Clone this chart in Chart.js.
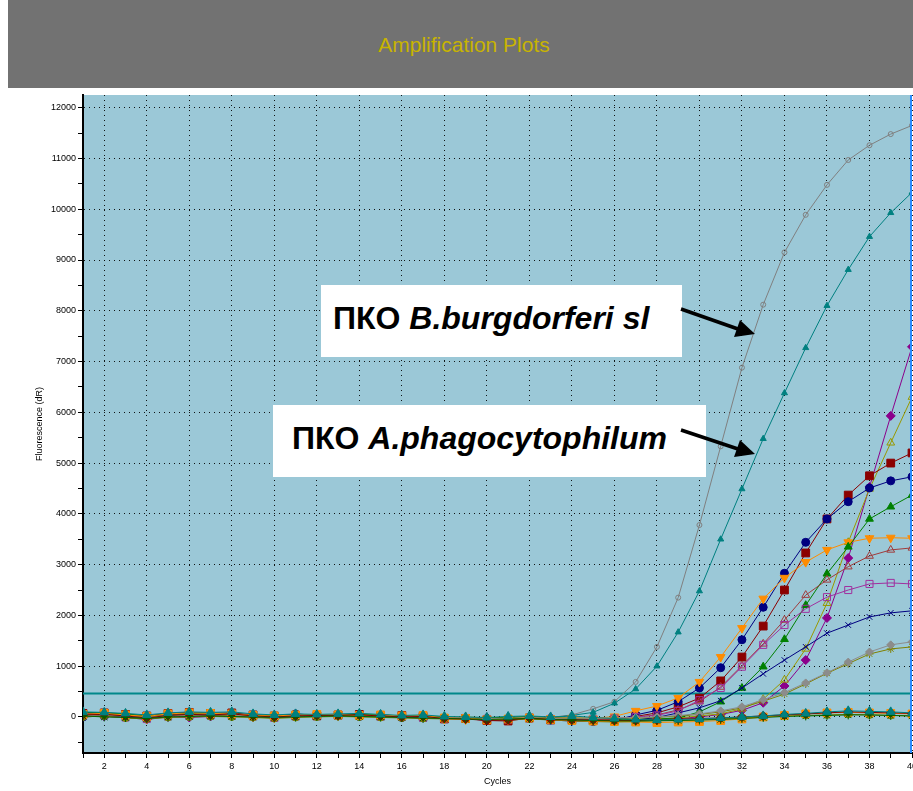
<!DOCTYPE html>
<html>
<head>
<meta charset="utf-8">
<script src="https://cdn.jsdelivr.net/npm/chart.js@4.4.1/dist/chart.umd.min.js"></script>
<style>
  body { margin: 0; background: #fff; }
  #page { position: relative; width: 913px; height: 791px; overflow: hidden; background: #fff; font-family: Arial, "Liberation Sans", sans-serif; }
  #header { position: absolute; left: 8px; top: 0; width: 905px; height: 88px; background: #727272; }
  #header span { position: absolute; left: 0; width: 912px; top: 33px; text-align: center; color: #c8b400; font-size: 21px; }
  #wrap { position: absolute; left: 0; top: 88px; width: 913px; height: 703px; }
  .note { position: absolute; background: #fff; display: flex; align-items: center; justify-content: flex-start; font-weight: bold; font-size: 32px; color: #000; white-space: nowrap; box-sizing: border-box; padding-bottom: 6px; }
  .note i { font-style: italic; }
  #arrows { position: absolute; left: 0; top: 0; pointer-events: none; }
</style>
</head>
<body>
<div id="page">
  <div id="header"><span>Amplification Plots</span></div>
  <div id="wrap"><canvas id="amp" width="913" height="703"></canvas></div>
  <div class="note" style="left:321px; top:285px; width:361px; height:72px; padding-left:12px;">ПКО&nbsp;<i>B.burgdorferi sl</i></div>
  <div class="note" style="left:273px; top:405px; width:433px; height:72px; padding-left:19px;">ПКО&nbsp;<i>A.phagocytophilum</i></div>
  <svg id="arrows" width="913" height="791">
    <line x1="681" y1="309" x2="738" y2="329" stroke="#000" stroke-width="3.5"/>
    <polygon points="755,334 734,337 740,320" fill="#000"/>
    <line x1="681" y1="430" x2="738" y2="449" stroke="#000" stroke-width="3.5"/>
    <polygon points="755,454 734,457 740,440" fill="#000"/>
  </svg>
</div>
<script>
const cycles = [1, 2, 3, 4, 5, 6, 7, 8, 9, 10, 11, 12, 13, 14, 15, 16, 17, 18, 19, 20,
  21, 22, 23, 24, 25, 26, 27, 28, 29, 30, 31, 32, 33, 34, 35, 36, 37, 38, 39, 40];
const yTicks = [-500, 0, 500, 1000, 1500, 2000, 2500, 3000, 3500, 4000, 4500, 5000, 5500, 6000,
  6500, 7000, 7500, 8000, 8500, 9000, 9500, 10000, 10500, 11000, 11500, 12000];

// positive controls
const bbPos = [50, 40, 20, -10, 30, 50, 40, 50, 20, 0, 30, 20, 30, 40, 20, 10, 0, -10, -20, -30,
  -20, 0, -10, 40, 160, 300, 690, 1380, 2350, 3780, 5330, 6880, 8120, 9150, 9890, 10480, 10970, 11260, 11480, 11650];
const apPos = [80, 70, 40, 0, 60, 70, 60, 70, 30, 10, 40, 30, 40, 50, 30, 10, 20, 0, -10, -20,
  0, 10, -20, 30, 90, 270, 550, 1000, 1670, 2480, 3500, 4490, 5480, 6380, 7270, 8100, 8810, 9460, 9930, 10330];

// samples
const orangeTri = [40, 60, 20, -30, 40, 60, 50, 40, 10, -10, 20, 40, 30, 20, 30, 0, 10, -40, -50, -30,
  -60, -10, -40, -20, -30, 10, 120, 215, 375, 690, 1180, 1750, 2330, 2740, 3050, 3290, 3440, 3520, 3530, 3520];
const navyDot = [0, 20, 30, -20, 50, 40, 60, 30, 20, 0, 60, 30, 20, 10, 40, -10, -20, -30, -40, -60,
  -50, -30, -60, -80, -90, -70, 40, 130, 300, 570, 970, 1520, 2160, 2830, 3440, 3900, 4240, 4510, 4650, 4730];
const redSquare = [70, 80, 50, 20, 70, 90, 70, 80, 40, 20, 30, 20, 40, 50, 20, 30, 10, -40, -30, -70,
  -80, -20, -60, -50, -70, -60, 10, 80, 200, 370, 710, 1180, 1790, 2500, 3230, 3900, 4370, 4750, 5000, 5200];
const brownTri = [60, 50, 10, -30, 20, 40, 20, 60, 30, 0, 20, 40, 50, 20, 30, 10, -10, -20, -30, -50,
  -40, -20, -30, -40, -60, -40, 0, 40, 140, 300, 590, 1010, 1440, 1910, 2400, 2700, 2960, 3170, 3290, 3330];
const purpleSquare = [20, 30, -10, -40, 10, 20, 30, 20, 10, -20, 10, 30, 20, 30, 10, 0, -20, -30, -20, -40,
  -50, -30, -40, -60, -50, -30, 0, 30, 120, 330, 570, 990, 1420, 1810, 2130, 2360, 2500, 2620, 2640, 2620];
const greenTri = [90, 80, 60, 20, 50, 70, 80, 60, 40, 30, 40, 30, 40, 60, 40, 20, 10, -10, -20, -10,
  -20, 10, -30, -40, -50, -60, -50, -40, -20, 100, 300, 570, 990, 1530, 2200, 2820, 3350, 3900, 4140, 4370];
const navyCross = [10, 30, 0, -20, 30, 40, 60, 50, 20, 10, 50, 40, 30, 20, 30, 0, -20, -10, -30, -40,
  -40, -20, -50, -60, -70, -80, -60, -10, 80, 180, 320, 570, 850, 1120, 1380, 1650, 1810, 1970, 2050, 2090];
const purpleDiamond = [30, 10, -10, -50, 0, -10, 10, 20, 0, -20, 10, 30, 40, 20, 30, 0, -10, -20, -30, -10,
  -20, 0, -10, -30, -40, -60, -70, -50, -30, 0, 50, 130, 280, 610, 1120, 1950, 3130, 4530, 5930, 7290];
const oliveTri = [40, 60, 30, 0, 40, 50, 40, 50, 30, 10, 30, 20, 30, 40, 20, 10, 20, -10, 0, -20,
  -10, 10, -20, -10, -30, -40, -50, -40, -20, 20, 60, 160, 350, 730, 1340, 2240, 3440, 4490, 5400, 6300];
const grayDiamond = [20, 40, 10, -10, 30, 30, 50, 40, 10, 0, 40, 30, 20, 30, 20, 10, 0, -20, -10, -30,
  -30, -10, -30, -20, -30, -20, -10, 0, 30, 60, 120, 200, 340, 480, 670, 870, 1080, 1280, 1420, 1480];
const oliveStar = [30, 50, 20, 0, 20, 40, 40, 30, 20, 10, 30, 20, 30, 20, 10, 0, 10, -10, -20, -20,
  -30, 0, -20, -30, -40, -30, -20, -10, 20, 50, 100, 180, 310, 450, 650, 860, 1050, 1240, 1340, 1380];

// negatives
const negOrange = [50, 70, 40, 10, 60, 80, 70, 60, 30, 20, 40, 50, 40, 30, 40, 20, 30, -20, -30, -60,
  -40, -20, -50, -70, -80, -90, -100, -110, -100, -90, -70, -40, 0, 30, 60, 80, 90, 80, 70, 60];
const negTeal = [100, 90, 70, 40, 80, 100, 90, 100, 60, 40, 60, 50, 60, 70, 50, 30, 40, 10, 0, -10,
  10, 20, 0, 20, -10, -30, -50, -60, -50, -40, -20, 0, 20, 50, 70, 100, 120, 110, 100, 80];
const negGreen = [20, 0, -10, -30, 0, 10, 20, 10, 0, -10, 0, 10, 20, 10, 0, -10, -20, -30, -40, -50,
  -40, -30, -50, -60, -70, -80, -80, -70, -70, -60, -50, -30, -10, 10, 20, 30, 40, 40, 30, 20];
const negMaroon = [40, 50, 20, -20, 30, 50, 40, 60, 20, 0, 20, 30, 30, 40, 20, 0, 10, -30, -40, -70,
  -60, -20, -50, -60, -60, -70, -70, -60, -40, -30, -20, 0, 20, 40, 60, 80, 100, 90, 80, 70];
const negOlive = [0, 20, -20, -40, -10, 0, 10, 0, -10, -30, -10, 0, 10, 0, -10, -20, -30, -40, -30, -50,
  -60, -40, -60, -80, -90, -100, -90, -80, -70, -60, -40, -20, 0, 20, 30, 40, 50, 40, 30, 20];

const threshold = 460;
const yMajor = 1000;

const pts = vals => vals.map((v, i) => ({ x: cycles[i], y: v }));

function series(vals, color, style, opts) {
  return Object.assign({
    data: pts(vals),
    borderColor: color,
    backgroundColor: color,
    pointBorderColor: color,
    pointBackgroundColor: color,
    pointStyle: style,
    pointRadius: 3.5,
    pointBorderWidth: 1,
    borderWidth: 1,
    tension: 0
  }, opts || {});
}

const datasets = [
  series(negTeal, '#008080', 'triangle', { pointRadius: 5 }),
  series(negGreen, '#006400', 'star', { pointRadius: 4.5 }),
  series(negMaroon, '#800000', 'rectRot', { pointRadius: 4.5 }),
  series(negOrange, '#ff8c00', 'rect', { pointRadius: 5.5 }),
  series(negOlive, '#808000', 'circle', { pointRadius: 3.5 }),
  series(grayDiamond, '#8c8c8c', 'rectRot', { pointRadius: 4 }),
  series(oliveStar, '#808000', 'star', { pointRadius: 4 }),
  series(navyCross, '#000080', 'crossRot', { pointRadius: 4 }),
  series(purpleSquare, '#a0309f', 'rect', { pointRadius: 5, pointBackgroundColor: 'rgba(0,0,0,0)' }),
  series(brownTri, '#a03c3c', 'triangle', { pointRadius: 4.5, pointBackgroundColor: 'rgba(0,0,0,0)' }),
  series(greenTri, '#008000', 'triangle', { pointRadius: 4.5 }),
  series(orangeTri, '#ff8c00', 'triangle', { pointRadius: 5, pointRotation: 180 }),
  series(navyDot, '#000080', 'circle', { pointRadius: 4 }),
  series(redSquare, '#8b0000', 'rect', { pointRadius: 5.5 }),
  series(oliveTri, '#999900', 'triangle', { pointRadius: 4.5, pointBackgroundColor: 'rgba(0,0,0,0)' }),
  series(purpleDiamond, '#8b008b', 'rectRot', { pointRadius: 4.5 }),
  series(apPos, '#008080', 'triangle', { pointRadius: 3.5 }),
  series(bbPos, '#808080', 'circle', { pointRadius: 2.5, pointBackgroundColor: 'rgba(0,0,0,0)' }),
  {
    data: [{ x: cycles[0], y: threshold }, { x: cycles[cycles.length - 1], y: threshold }],
    borderColor: '#00878a',
    borderWidth: 2,
    pointRadius: 0
  }
];

const plotBg = {
  id: 'plotBg',
  beforeDraw(chart) {
    const { ctx, chartArea: a } = chart;
    ctx.save();
    ctx.fillStyle = '#9bc8d7';
    ctx.fillRect(a.left, a.top, a.right - a.left, a.bottom - a.top);
    ctx.restore();
  },
  afterDraw(chart) {
    const { ctx, chartArea: a } = chart;
    ctx.save();
    ctx.strokeStyle = '#2b8cff';
    ctx.lineWidth = 2;
    ctx.beginPath();
    ctx.moveTo(a.right - 1, a.top);
    ctx.lineTo(a.right - 1, a.bottom);
    ctx.stroke();
    ctx.restore();
  }
};

const tickFont = { family: 'Arial, "Liberation Sans", sans-serif', size: 9 };

new Chart(document.getElementById('amp'), {
  type: 'line',
  data: { datasets },
  plugins: [plotBg],
  options: {
    responsive: false,
    animation: false,
    layout: { autoPadding: false, padding: { top: 7, right: 1, left: 0, bottom: 0 } },
    plugins: { legend: { display: false }, tooltip: { enabled: false } },
    scales: {
      x: {
        type: 'linear',
        min: 1,
        max: 40,
        afterFit: s => { s.height = 38; s.paddingLeft = 0; s.paddingRight = 0; },
        ticks: {
          stepSize: 1,
          autoSkip: false,
          maxRotation: 0,
          padding: 3,
          color: '#000',
          font: tickFont,
          callback: v => (v % 2 === 0 ? v : '')
        },
        grid: {
          color: c => (c.tick && c.tick.value % 2 === 0 ? 'rgba(0,0,0,0.9)' : 'rgba(0,0,0,0)'),
          tickColor: '#000',
          tickLength: 5,
          lineWidth: 1
        },
        border: { color: '#000', width: 2, dash: [1, 4] },
        title: { display: true, text: 'Cycles', color: '#000', font: tickFont, padding: { top: 0, bottom: 4 } }
      },
      y: {
        min: -710,
        max: 12250,
        afterBuildTicks: s => { s.ticks = yTicks.map(v => ({ value: v })); },
        afterFit: s => { s.width = 83; s.paddingTop = 0; s.paddingBottom = 0; },
        ticks: {
          autoSkip: false,
          padding: 2,
          color: '#000',
          font: tickFont,
          callback: v => (v % yMajor === 0 ? v : '')
        },
        grid: {
          color: c => (c.tick && c.tick.value % yMajor === 0 ? 'rgba(0,0,0,0.9)' : 'rgba(0,0,0,0)'),
          tickColor: '#000',
          tickLength: 5,
          lineWidth: 1
        },
        border: { color: '#000', width: 2, dash: [1, 4] },
        title: { display: true, text: 'Fluorescence (dR)', color: '#000', font: tickFont, padding: { top: 34, bottom: 0 } }
      }
    }
  }
});
</script>
</body>
</html>
